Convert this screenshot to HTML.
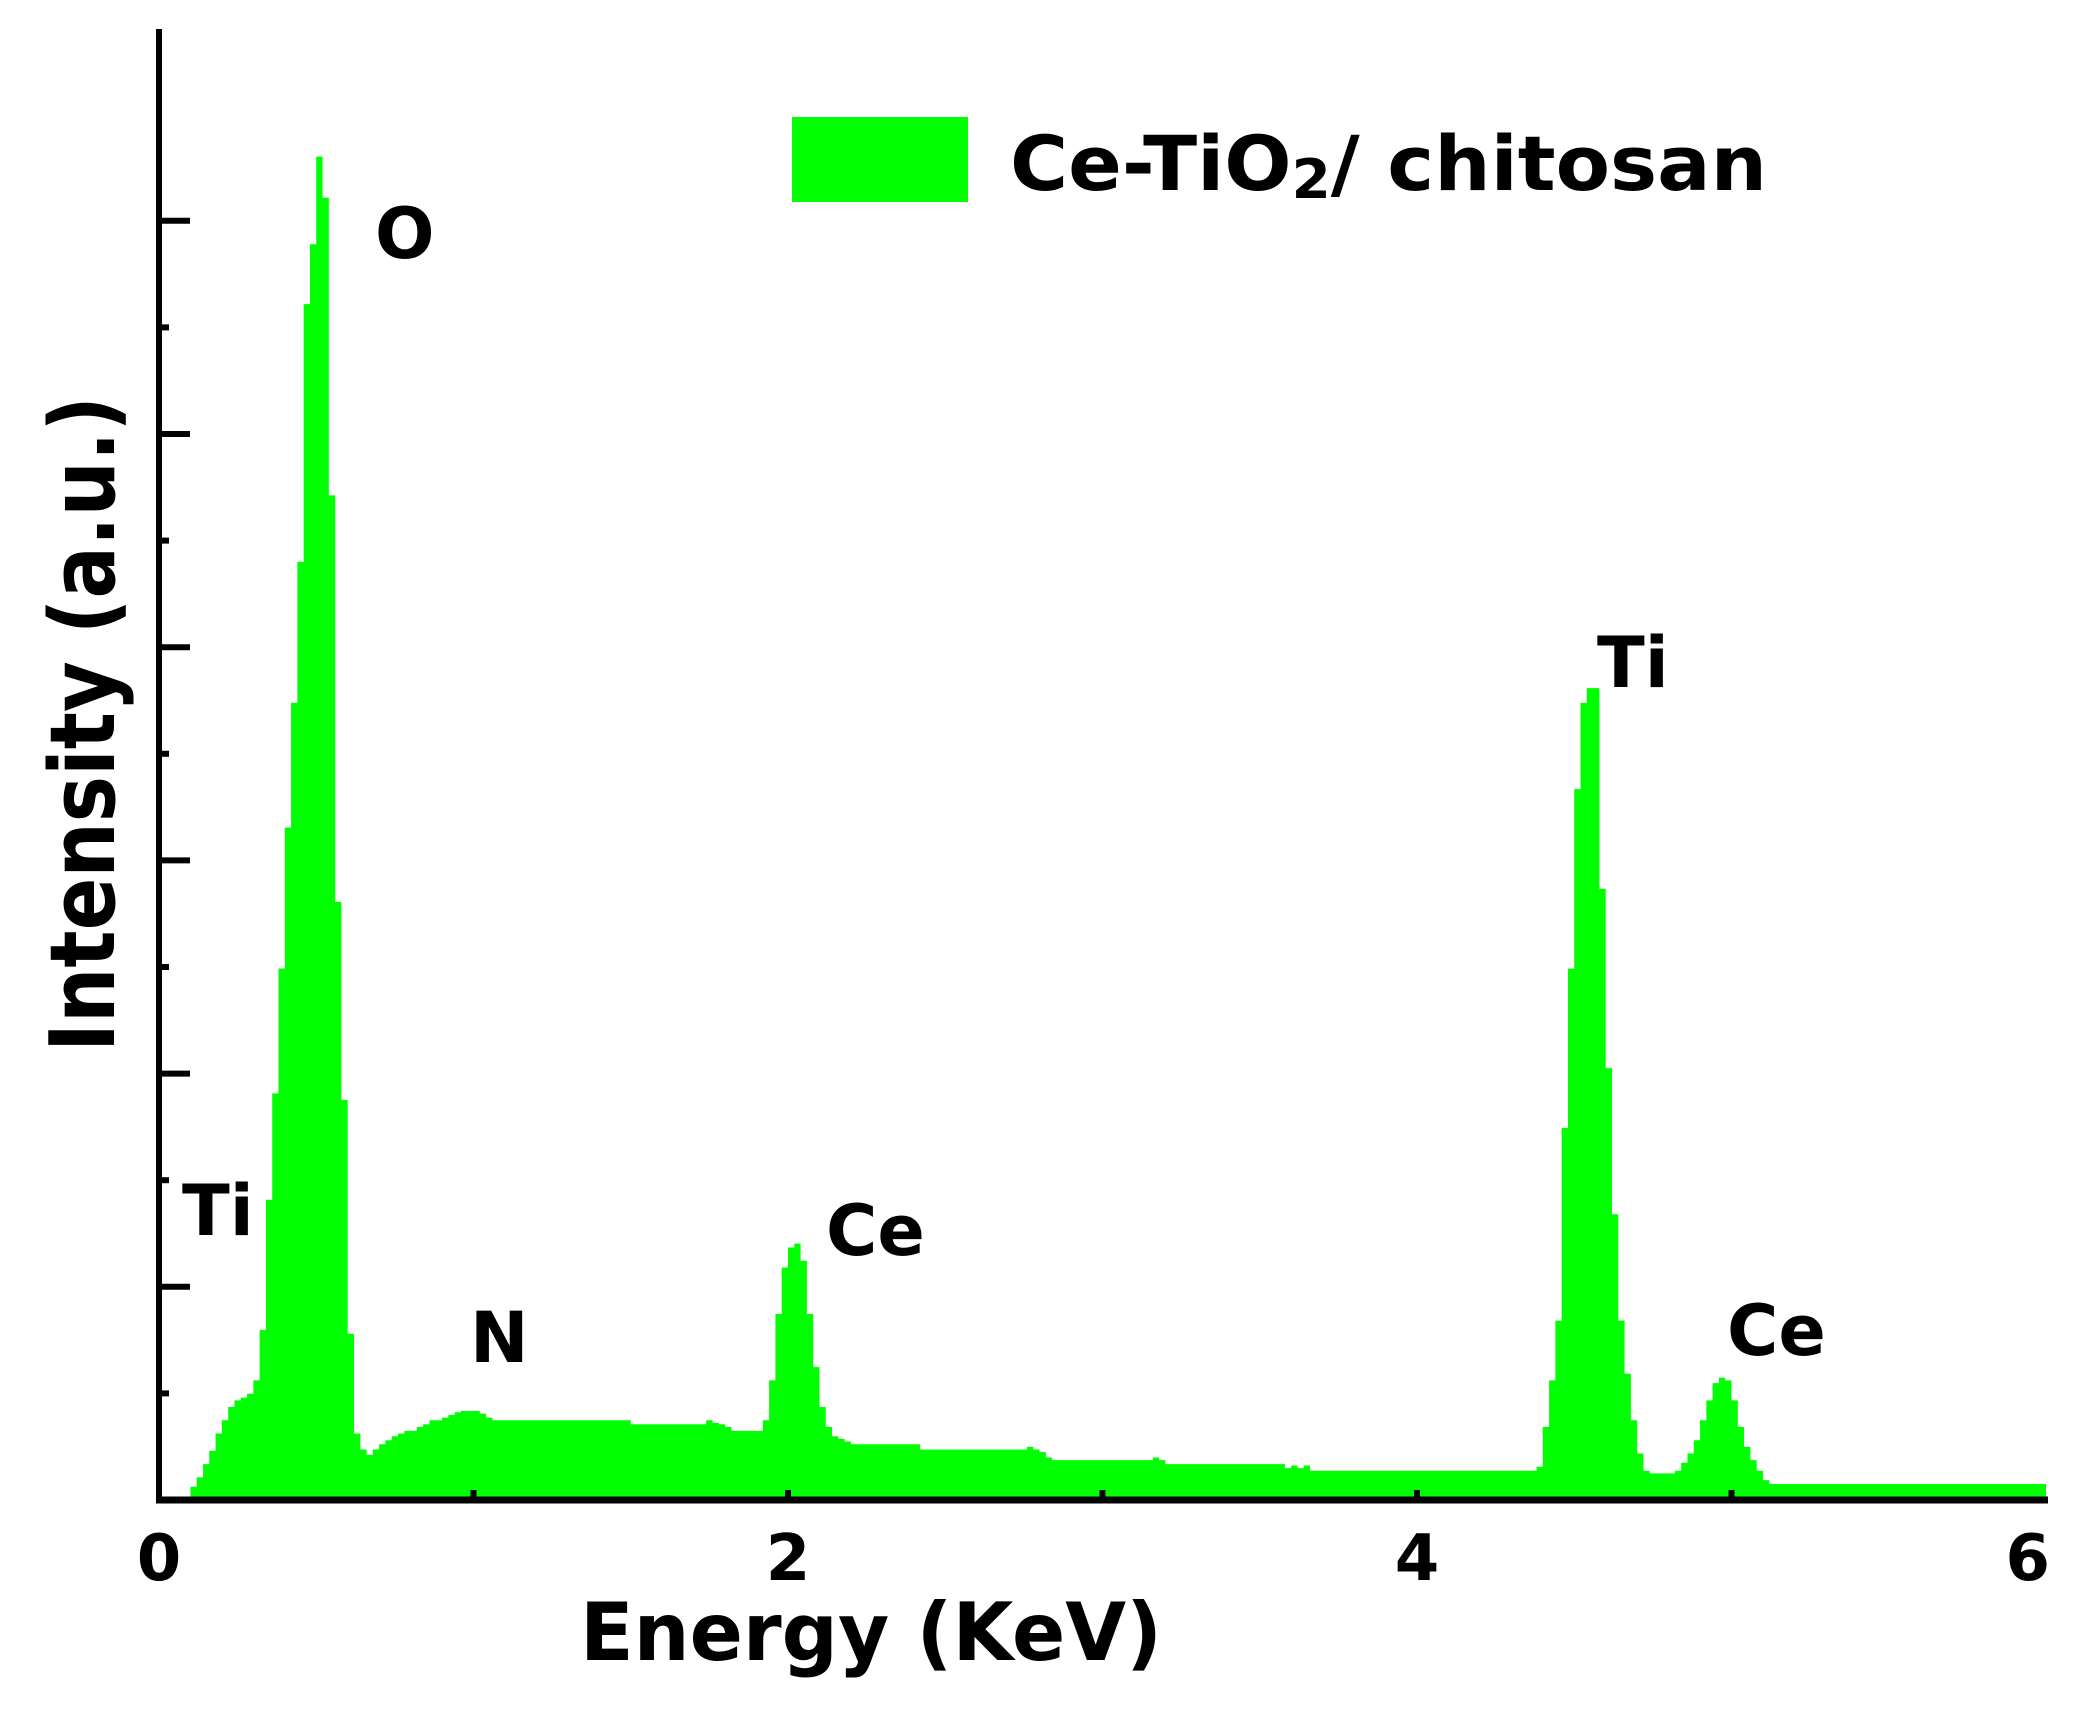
<!DOCTYPE html>
<html><head><meta charset="utf-8"><style>
html,body{margin:0;padding:0;background:#fff;}
svg{display:block;}
text{font-family:"DejaVu Sans","Liberation Sans",sans-serif;font-weight:bold;fill:#000;}
</style></head><body>
<svg id="chart" width="2083" height="1714" viewBox="0 0 2083 1714" xmlns="http://www.w3.org/2000/svg">
<g id="bars"></g>
<g id="axes"></g>
<rect x="792" y="117" width="176" height="85" fill="#00ff00"/>
<text x="1010" y="190" font-size="76" textLength="757" lengthAdjust="spacingAndGlyphs">Ce-TiO<tspan font-size="54" dy="8">2</tspan><tspan dy="-8">/ chitosan</tspan></text>
<text x="375" y="258" font-size="70">O</text>
<text x="182" y="1235" font-size="70">Ti</text>
<text x="470" y="1362" font-size="70">N</text>
<text x="826" y="1255" font-size="70">Ce</text>
<text x="1597" y="687" font-size="70">Ti</text>
<text x="1727" y="1355" font-size="70">Ce</text>
<text x="580" y="1660" font-size="80" textLength="582" lengthAdjust="spacingAndGlyphs">Energy (KeV)</text>
<text transform="translate(114,724) rotate(-90)" text-anchor="middle" font-size="90" textLength="656" lengthAdjust="spacingAndGlyphs">Intensity (a.u.)</text>
</svg>
<script>
const binStart = 0;
const binWidth = 0.02;
const counts = [
0,0,0,0,0,10,17,27,37,50,60,70,75,77,80,90,128,226,306,400,
506,600,706,900,945,1011,980,756,450,301,125,50,38,34,38,42,45,48,50,52,
52,55,57,60,60,62,64,66,67,67,67,65,62,60,60,60,60,60,60,60,
60,60,60,60,60,60,60,60,60,60,60,60,60,60,60,57,57,57,57,57,
57,57,57,57,57,57,57,60,58,57,55,52,52,52,52,52,60,90,140,175,
190,193,180,140,100,70,55,48,46,44,42,42,42,42,42,42,42,42,42,42,
42,38,38,38,38,38,38,38,38,38,38,38,38,38,38,38,38,38,40,38,
36,32,30,30,30,30,30,30,30,30,30,30,30,30,30,30,30,30,32,30,
27,27,27,27,27,27,27,27,27,27,27,27,27,27,27,27,27,27,27,24,
26,24,26,22,22,22,22,22,22,22,22,22,22,22,22,22,22,22,22,22,
22,22,22,22,22,22,22,22,22,22,22,22,22,22,22,22,22,22,22,25,
55,90,135,280,400,535,600,611,611,460,
325,215,135,95,60,35,22,20,20,20,20,22,28,35,45,60,75,88,92,90,
75,55,40,30,22,15,12,12,12,12,12,12,12,12,12,12,12,12,12,12,
12,12,12,12,12,12,12,12,12,12,12,12,12,12,12,12,12,12,12,12,
12,12,12,12,12,12,12,12,12,12,12,12,12,12,12,12,12,12,12,12,12
];
const xTickValues = [0,1,2,3,4,5,6];
const xTickLabels = ["0","","2","","4","","6"];
const yTickCount = 13;

const X0=159, X1=2046, Y0=1500, YTOP=29, YMAX=1107;
function xs(e){return X0+(e/6)*(X1-X0);}
function ys(v){return Y0-(v/YMAX)*(Y0-YTOP);}
const NS="http://www.w3.org/2000/svg";
const bars=document.getElementById('bars');
let d="M"+xs(binStart)+","+Y0;
for(let i=0;i<counts.length;i++){
  const c=counts[i];
  const a=xs(binStart+i*binWidth), b=xs(binStart+(i+1)*binWidth);
  if(a>=X1) break;
  d+=" L"+a+","+ys(c)+" L"+Math.min(b,X1)+","+ys(c);
}
d+=" L"+X1+","+Y0+" Z";
const p=document.createElementNS(NS,'path');
p.setAttribute('d',d);p.setAttribute('fill','#00ff00');


bars.appendChild(p);

const axes=document.getElementById('axes');
function line(x1,y1,x2,y2,w,name){
  const l=document.createElementNS(NS,'line');
  l.setAttribute('x1',x1);l.setAttribute('y1',y1);l.setAttribute('x2',x2);l.setAttribute('y2',y2);
  l.setAttribute('stroke','#000');l.setAttribute('stroke-width',w);
  
  
  axes.appendChild(l);
}
line(159,29,159,1503,6,'y-axis-line');
line(156,1500,2048,1500,7,'x-axis-line');
for(let k=1;k<yTickCount;k++){
  const y=Y0-k*106.6;
  line(159,y,(k%2===0)?190:169,y,6,'y-tick');
}
xTickValues.forEach(function(v,i){
  const x=xs(v);
  if(v>0&&v<6) line(x,1490,x,1500,6,'x-tick');
  if(xTickLabels[i]){
    const t=document.createElementNS(NS,'text');
    t.setAttribute('x',v===6?x+4:x);t.setAttribute('y',1580);
    t.setAttribute('text-anchor',v===6?'end':'middle');
    t.setAttribute('font-size','64');
    t.textContent=xTickLabels[i];
    
    
    axes.appendChild(t);
  }
});
</script>
</body></html>
